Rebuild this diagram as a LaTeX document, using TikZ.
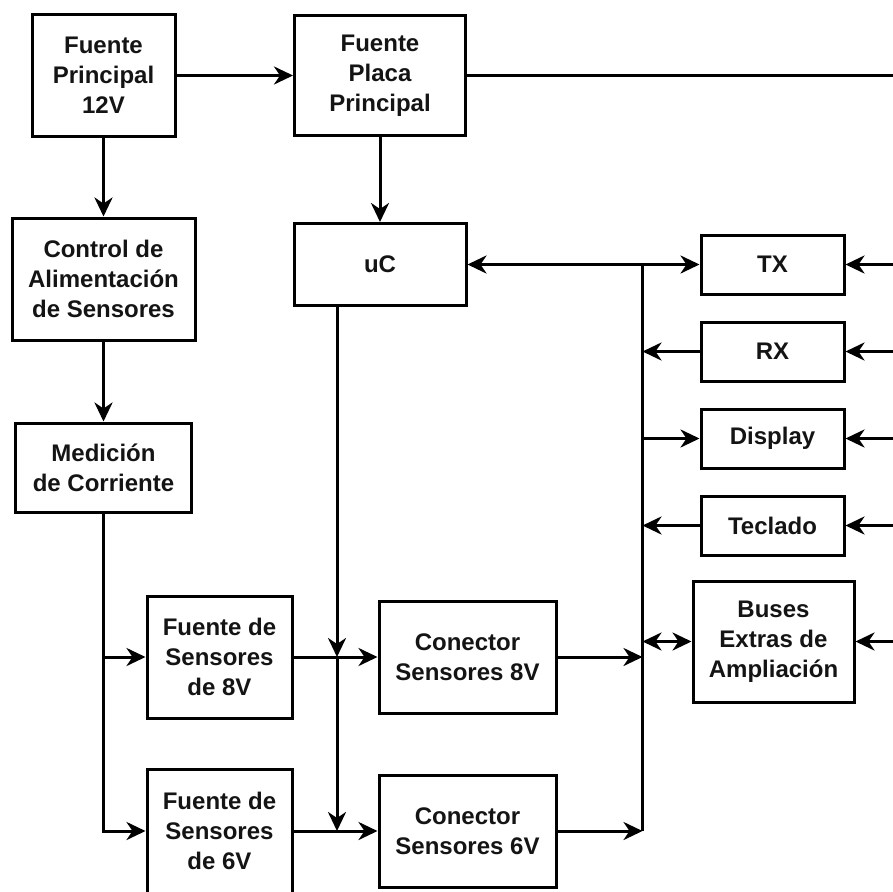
\documentclass[tikz,border=0pt]{standalone}
\usepackage{fontspec}
\setmainfont{Liberation Sans}
\usetikzlibrary{arrows.meta}
\tikzset{
  tip/.tip={Stealth[length=19pt,width=18pt,inset=6pt]},
  box/.style={draw=black, line width=3pt, inner sep=0pt, align=center, text=black!92,
    font=\fontsize{24}{30}\selectfont\bfseries},
  wire/.style={line width=3pt, line cap=butt},
  arr/.style={wire, -tip},
  darr/.style={wire, tip-tip}
}
\begin{document}
\begin{tikzpicture}[x=1pt,y=-1pt]
\fill[white] (0,0) rectangle (893,891);
\useasboundingbox (0,0) rectangle (893,891);
\begin{scope}
\clip (0,0) rectangle (893,891);
% boxes
\node[box, minimum width=143pt, minimum height=121pt] (fp) at (103.5,75.5) {Fuente\\Principal\\12V};
\node[box, minimum width=171pt, minimum height=120pt] (fpp) at (380,75.5) {Fuente\\Placa\\Principal};
\node[box, minimum width=183pt, minimum height=122pt] (ctrl) at (103.5,279) {Control de\\Alimentación\\de Sensores};
\node[box, minimum width=172pt, minimum height=82pt] (uc) at (380,264.5) {uC};
\node[box, minimum width=176pt, minimum height=89pt] (med) at (103.5,467.5) {Medición\\de Corriente};
\node[box, minimum width=143pt, minimum height=59pt] (tx) at (772.5,264.5) {TX};
\node[box, minimum width=143pt, minimum height=59pt] (rx) at (772.5,351.5) {RX};
\node[box, minimum width=143pt, minimum height=59pt] (disp) at (772.5,438.5) {Display};
\node[box, minimum width=143pt, minimum height=59pt] (tec) at (772.5,525.5) {Teclado};
\node[box, minimum width=161pt, minimum height=121pt] (bus) at (773.5,641.5) {Buses\\Extras de\\Ampliación};
\node[box, minimum width=145pt, minimum height=122pt] (f8) at (219.5,657) {Fuente de\\Sensores\\de 8V};
\node[box, minimum width=145pt, minimum height=124pt] (f6) at (219.5,831) {Fuente de\\Sensores\\de 6V};
\node[box, minimum width=177pt, minimum height=112pt] (c8) at (467.5,657) {Conector\\Sensores 8V};
\node[box, minimum width=177pt, minimum height=112pt] (c6) at (467.5,831) {Conector\\Sensores 6V};
% helper coordinates
\coordinate (ux) at (337,0);
\coordinate (bx) at (642.5,0);
\coordinate (edge) at (893,0);
% top chain
\draw[arr] (fp.east) -- (fpp.west);
\draw[wire] (fpp.east) -- (edge |- fpp.east);
\draw[arr] (fp.south) -- (ctrl.north);
\draw[arr] (ctrl.south) -- (med.north);
\draw[arr] (fpp.south) -- (uc.north);
% sensor supply trunk
\draw[arr] (med.south) |- (f6.west);
\draw[arr] (med.south |- f8.west) -- (f8.west);
% uC line down
\draw[arr] (uc.south -| ux) -- (ux |- f8.west);
\draw[arr] (ux |- f8.west) -- (ux |- f6.west);
% fuentes to conectores
\draw[arr] (f8.east) -- (c8.west);
\draw[arr] (f6.east) -- (c6.west);
% bus
\draw[wire] (bx |- uc.east) -- (bx |- c6.east);
\draw[arr] (c8.east) -- (bx |- c8.east);
\draw[arr] (c6.east) -- (bx |- c6.east);
\draw[darr] (uc.east) -- (tx.west);
\draw[arr] (rx.west) -- (bx |- rx.west);
\draw[arr] (bx |- disp.west) -- (disp.west);
\draw[arr] (tec.west) -- (bx |- tec.west);
\draw[darr] (bx |- bus.west) -- (bus.west);
% right-hand inputs
\draw[arr] (edge |- tx.east) -- (tx.east);
\draw[arr] (edge |- rx.east) -- (rx.east);
\draw[arr] (edge |- disp.east) -- (disp.east);
\draw[arr] (edge |- tec.east) -- (tec.east);
\draw[arr] (edge |- bus.east) -- (bus.east);
\end{scope}
\end{tikzpicture}
\end{document}
